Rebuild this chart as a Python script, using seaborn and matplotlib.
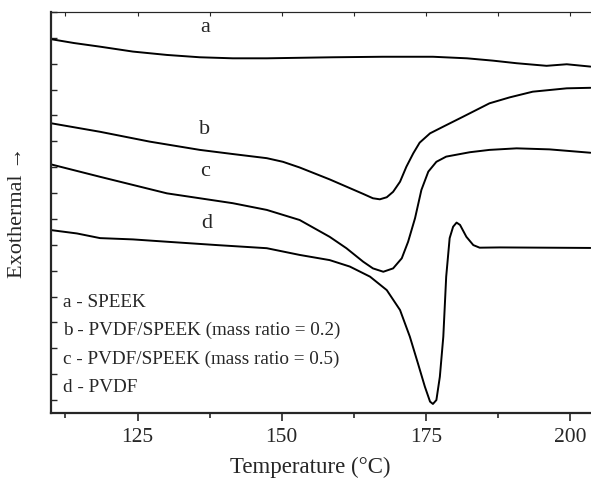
import matplotlib
matplotlib.use("Agg")
import matplotlib.pyplot as plt
import seaborn as sns
import pandas as pd
from matplotlib.ticker import MultipleLocator, NullFormatter

# ---- data (temperature in °C, heat flow in arbitrary offset units) ----
temp_a = [110.0, 114.0, 118.5, 124.2, 130.1, 135.8, 141.5, 147.4, 153.1, 158.8,
          167.5, 176.2, 182.1, 186.6, 190.7, 195.9, 199.4, 203.5]
flow_a = [14.45, 14.30, 14.16, 13.97, 13.84, 13.75, 13.71, 13.71, 13.73, 13.75,
          13.77, 13.77, 13.71, 13.62, 13.52, 13.42, 13.48, 13.39]

temp_b = [110.0, 118.5, 127.1, 135.8, 141.5, 147.4, 150.2, 153.1, 158.3, 161.2,
          164.1, 165.8, 167.0, 168.2, 169.3, 170.5, 171.6, 172.8, 173.9, 175.7,
          178.0, 181.4, 186.0, 189.5, 193.5, 199.4, 203.5]
flow_b = [11.20, 10.87, 10.49, 10.17, 10.01, 9.85, 9.71, 9.49, 9.03, 8.75,
          8.47, 8.30, 8.26, 8.34, 8.55, 8.94, 9.52, 10.04, 10.45, 10.81,
          11.07, 11.45, 11.97, 12.20, 12.42, 12.55, 12.57]

temp_c = [110.0, 118.5, 130.1, 141.5, 147.4, 153.1, 158.3, 161.2, 164.1, 165.8,
          167.6, 169.3, 170.8, 171.9, 173.1, 174.2, 175.4, 176.8, 178.5, 182.6,
          186.0, 190.7, 196.4, 203.5]
flow_c = [9.61, 9.13, 8.49, 8.11, 7.85, 7.46, 6.81, 6.37, 5.85, 5.59,
          5.46, 5.59, 5.98, 6.62, 7.53, 8.62, 9.33, 9.71, 9.91, 10.08,
          10.17, 10.23, 10.19, 10.06]

temp_d = [110.0, 114.5, 118.5, 124.2, 130.1, 138.8, 147.4, 153.1, 158.3, 161.8,
          165.3, 168.2, 170.5, 172.2, 173.6, 174.8, 175.7, 176.2, 176.8, 177.4,
          178.0, 178.5, 179.1, 179.7, 180.3, 180.9, 182.0, 183.2, 184.3, 187.8,
          203.5]
flow_d = [7.07, 6.94, 6.76, 6.71, 6.62, 6.49, 6.37, 6.11, 5.91, 5.66,
          5.27, 4.75, 3.98, 2.95, 1.92, 1.02, 0.44, 0.35, 0.50, 1.40,
          2.95, 5.27, 6.76, 7.20, 7.36, 7.27, 6.81, 6.49, 6.39, 6.40,
          6.38]

curve_letters = ["a", "b", "c", "d"]
legend_lines = ["a - SPEEK",
                "b - PVDF/SPEEK (mass ratio = 0.2)",
                "c - PVDF/SPEEK (mass ratio = 0.5)",
                "d - PVDF"]
x_ticks = [125, 150, 175, 200]

sns.set_style("ticks")
plt.rcParams["font.family"] = ["Liberation Serif", "DejaVu Serif"]

fig = plt.figure(figsize=(5.91, 4.79), dpi=100)
ax = fig.add_axes([51 / 591, 66 / 479, 1 - 51 / 591, 401 / 479])

frames = []
for name, t, f in [("a", temp_a, flow_a), ("b", temp_b, flow_b),
                   ("c", temp_c, flow_c), ("d", temp_d, flow_d)]:
    frames.append(pd.DataFrame({"T": t, "F": f, "curve": name}))
df = pd.concat(frames, ignore_index=True)

sns.lineplot(data=df, x="T", y="F", units="curve", estimator=None, sort=False,
             color="black", linewidth=1.4, ax=ax, legend=False)

ax.set_xlim(110, 203.6)
ax.set_ylim(0, 15.5)

ax.set_xticks(x_ticks)
ax.xaxis.set_minor_locator(MultipleLocator(12.5))
ax.yaxis.set_major_locator(MultipleLocator(1.0, offset=0.5))
ax.yaxis.set_major_formatter(NullFormatter())

ax.tick_params(axis="x", which="major", direction="out", length=6, width=1.2,
               labelsize=15.5, pad=5, top=False)
ax.tick_params(axis="x", which="minor", direction="out", length=3.5, width=1.2, top=False)
ax.tick_params(axis="y", which="major", direction="in", length=4, width=1.0, left=True)

# top axis: inward ticks, no labels
secx = ax.secondary_xaxis("top")
secx.set_xticks([112.5, 125, 137.5, 150, 162.5, 175, 187.5, 200])
secx.tick_params(axis="x", direction="in", length=3, width=0.8, labeltop=False)
secx.spines["top"].set_linewidth(0.8)

ax.spines["right"].set_visible(False)
ax.spines["left"].set_linewidth(1.6)
ax.spines["bottom"].set_linewidth(1.6)
ax.spines["top"].set_linewidth(0.8)

ax.set_xlabel("Temperature (°C)", fontsize=16.5)
ax.xaxis.set_label_coords(0.48, -0.11)
ax.set_ylabel("")
fig.text(18 / 591, 1 - 212 / 479, "Exothermal →", rotation=90, fontsize=16,
         ha="center", va="center")

# curve letters
letter_pos = {"a": (136.7, 14.92), "b": (136.7, 10.94), "c": (136.7, 9.32), "d": (137.0, 7.34)}
for L in curve_letters:
    x, y = letter_pos[L]
    ax.text(x, y, L, fontsize=16, ha="center", va="center")

# legend text block
for i, s in enumerate(legend_lines):
    ax.text(112.0, 4.29 - i * 1.107, s, fontsize=13.8, ha="left", va="center")

fig.savefig("out.png", dpi=100)
